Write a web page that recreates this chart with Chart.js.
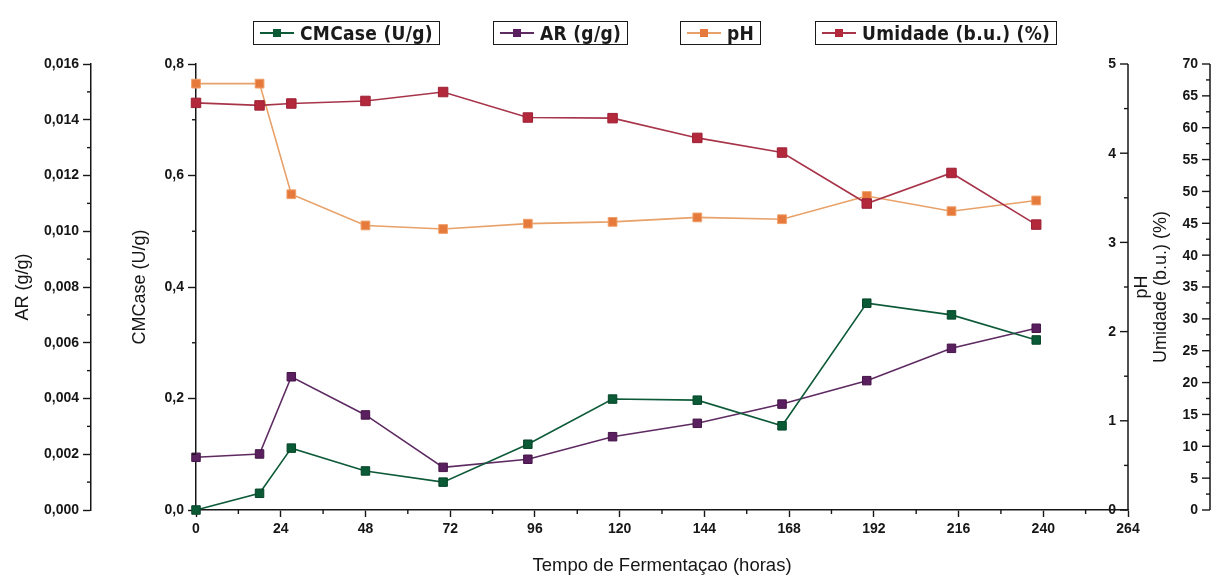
<!DOCTYPE html>
<html lang="pt">
<head>
<meta charset="utf-8">
<title>Fermentação</title>
<script src="https://cdn.jsdelivr.net/npm/chart.js@4.4.1/dist/chart.umd.min.js"></script>
<style>
  html, body { margin: 0; padding: 0; background: #fff; }
  #wrap { position: relative; width: 1214px; height: 585px; overflow: hidden; }
  #chart { position: absolute; left: 0; top: 0; }
  .lg-item {
    position: absolute; top: 21px; height: 22px;
    border: 1.5px solid #1a1a1a; box-sizing: content-box;
    display: flex; align-items: center; padding: 0 6px 0 6px;
    font-family: "DejaVu Sans Condensed", "Liberation Sans", Arial, sans-serif;
    font-weight: bold; font-size: 19px; color: #1a1a1a; letter-spacing: 0.3px; white-space: nowrap;
  }
  .lg-sw { position: relative; width: 34px; height: 22px; margin-right: 6px; flex: none; }
  .lg-sw .ln { position: absolute; left: 0; right: 0; top: 10px; height: 2px; }
  .lg-sw .mk { position: absolute; left: 13px; top: 7px; width: 8px; height: 8px; }
</style>
</head>
<body>
<div id="wrap">
  <canvas id="chart" width="1214" height="585"></canvas>
  <div id="legend"></div>
</div>
<script>
// Sampling times (h) and measured series
const hours    = [0, 18, 27, 48, 70, 94, 118, 142, 166, 190, 214, 238];
const cmcase   = [0.000, 0.030, 0.111, 0.070, 0.050, 0.118, 0.199, 0.197, 0.151, 0.371, 0.350, 0.305];
const arValues = [0.00189, 0.00201, 0.00478, 0.00341, 0.00153, 0.00182, 0.00263, 0.00311, 0.00380, 0.00464, 0.00580, 0.00652];
const phValues = [4.78, 4.78, 3.54, 3.19, 3.15, 3.21, 3.23, 3.28, 3.26, 3.52, 3.35, 3.47];
const umidade  = [63.9, 63.5, 63.8, 64.2, 65.6, 61.6, 61.5, 58.4, 56.1, 48.1, 52.9, 44.8];

// Axis tick labels
const hourTicks = ['0', '24', '48', '72', '96', '120', '144', '168', '192', '216', '240', '264'];
const cmTicks   = ['0,0', '0,2', '0,4', '0,6', '0,8'];
const arTicks   = ['0,000', '0,002', '0,004', '0,006', '0,008', '0,010', '0,012', '0,014', '0,016'];
const phTicks   = ['0', '1', '2', '3', '4', '5'];
const umTicks   = ['0', '5', '10', '15', '20', '25', '30', '35', '40', '45', '50', '55', '60', '65', '70'];

const seriesNames = ['CMCase (U/g)', 'AR (g/g)', 'pH', 'Umidade (b.u.) (%)'];

const INK = '#161616';
const TICK_FONT = { family: 'Liberation Sans, Arial, sans-serif', size: 14, weight: 'bold' };
const TITLE_FONT = { family: 'Liberation Sans, Arial, sans-serif', size: 18, weight: 'normal' };

const styles = [
  { line: '#0d5a38', fill: '#0b5a36', edge: '#064428', r: 6.0 },
  { line: '#5e2a62', fill: '#5a1f5e', edge: '#451548', r: 6.0 },
  { line: '#e8a168', fill: '#e57a3c', edge: '#f0a06a', r: 6.2 },
  { line: '#a8344a', fill: '#b4283c', edge: '#9c2035', r: 6.7 }
];

function pts(values) { return hours.map((h, i) => ({ x: h, y: values[i] })); }

const seriesData = [cmcase, arValues, phValues, umidade];
const axisIds = ['yCM', 'yAR', 'yPH', 'yUM'];

const datasets = seriesData.map((vals, i) => ({
  label: seriesNames[i],
  data: pts(vals),
  yAxisID: axisIds[i],
  borderColor: styles[i].line,
  borderWidth: 1.6,
  backgroundColor: styles[i].fill,
  pointStyle: 'rect',
  pointRadius: styles[i].r,
  pointBackgroundColor: styles[i].fill,
  pointBorderColor: styles[i].edge,
  pointBorderWidth: 1,
  tension: 0,
  clip: false,
  order: [2, 3, 1, 0][i]
}));

function fromList(list) { return (v, i) => (list[i] !== undefined ? list[i] : ''); }

// Minor ticks between labelled ticks, plus the two right-hand axes (ticks point inward)
const axisDecor = {
  id: 'axisDecor',
  afterDraw(chart) {
    const ctx = chart.ctx;
    const area = chart.chartArea;
    ctx.save();
    ctx.strokeStyle = INK;
    ctx.fillStyle = INK;
    ctx.lineWidth = 1.4;

    const minorBetween = (scale, cb) => {
      const t = scale.ticks;
      for (let i = 0; i < t.length - 1; i++) cb(scale.getPixelForValue((t[i].value + t[i + 1].value) / 2));
    };
    const sx = chart.scales.x;
    minorBetween(sx, p => { ctx.beginPath(); ctx.moveTo(p, area.bottom); ctx.lineTo(p, area.bottom + 4); ctx.stroke(); });
    ['yAR', 'yCM'].forEach(id => {
      const s = chart.scales[id];
      minorBetween(s, p => { ctx.beginPath(); ctx.moveTo(s.right, p); ctx.lineTo(s.right - 4, p); ctx.stroke(); });
    });

    const sideAxis = (scale, lineX, labels, title, titleX) => {
      ctx.lineWidth = 1.5;
      ctx.beginPath(); ctx.moveTo(lineX, scale.top); ctx.lineTo(lineX, scale.bottom); ctx.stroke();
      ctx.lineWidth = 1.4;
      ctx.font = 'bold 14px "Liberation Sans", Arial, sans-serif';
      ctx.textAlign = 'right';
      ctx.textBaseline = 'middle';
      scale.ticks.forEach((tk, i) => {
        const p = scale.getPixelForValue(tk.value);
        ctx.beginPath(); ctx.moveTo(lineX, p); ctx.lineTo(lineX - 8, p); ctx.stroke();
        ctx.fillText(labels[i] !== undefined ? labels[i] : '', lineX - 12, p + 0.5);
      });
      minorBetween(scale, p => { ctx.beginPath(); ctx.moveTo(lineX, p); ctx.lineTo(lineX - 4, p); ctx.stroke(); });
      ctx.save();
      ctx.translate(titleX, (scale.top + scale.bottom) / 2);
      ctx.rotate(-Math.PI / 2);
      ctx.font = '18px "Liberation Sans", Arial, sans-serif';
      ctx.textAlign = 'center';
      ctx.textBaseline = 'middle';
      ctx.fillText(title, 0, 0);
      ctx.restore();
    };
    sideAxis(chart.scales.yPH, area.right, phTicks, 'pH', area.right + 14);
    sideAxis(chart.scales.yUM, area.right + 82, umTicks, 'Umidade (b.u.) (%)', area.right + 33);
    ctx.restore();
  }
};

const chart = new Chart(document.getElementById('chart'), {
  type: 'line',
  data: { datasets },
  plugins: [axisDecor],
  options: {
    responsive: false,
    devicePixelRatio: 1,
    animation: false,
    layout: { padding: { top: 64, right: 86, left: 0, bottom: 0 } },
    plugins: { legend: { display: false }, tooltip: { enabled: false } },
    scales: {
      x: {
        type: 'linear', position: 'bottom', min: 0, max: 264,
        ticks: { stepSize: 24, callback: fromList(hourTicks), font: TICK_FONT, color: INK, padding: 4, maxRotation: 0 },
        grid: { drawOnChartArea: false, tickLength: 7, tickColor: INK, tickWidth: 1.4 },
        border: { color: INK, width: 1.6 },
        title: { display: true, text: 'Tempo de Fermentaçao (horas)', color: INK,
                 font: { family: 'Liberation Sans, Arial, sans-serif', size: 18.5 },
                 padding: { top: 0, bottom: 8 } },
        afterFit: s => { s.height = 75; }
      },
      yAR: {
        type: 'linear', position: 'left', weight: 2, min: 0, max: 0.016,
        ticks: { stepSize: 0.002, callback: fromList(arTicks), font: TICK_FONT, color: INK, padding: 4 },
        grid: { drawOnChartArea: false, tickLength: 8, tickColor: INK, tickWidth: 1.4 },
        border: { color: INK, width: 1.5 },
        title: { display: true, text: 'AR (g/g)', color: INK, font: TITLE_FONT, padding: { top: 12, bottom: 0 } },
        afterFit: s => { s.width = 91; }
      },
      yCM: {
        type: 'linear', position: 'left', weight: 1, min: 0, max: 0.8,
        ticks: { stepSize: 0.2, callback: fromList(cmTicks), font: TICK_FONT, color: INK, padding: 4 },
        grid: { drawOnChartArea: false, tickLength: 8, tickColor: INK, tickWidth: 1.4 },
        border: { color: INK, width: 1.5 },
        title: { display: true, text: 'CMCase (U/g)', color: INK, font: TITLE_FONT, padding: { top: 38, bottom: 0 } },
        afterFit: s => { s.width = 105; }
      },
      yPH: { type: 'linear', position: 'right', display: false, min: 0, max: 5, ticks: { stepSize: 1 } },
      yUM: { type: 'linear', position: 'right', display: false, min: 0, max: 70, ticks: { stepSize: 5 } }
    }
  }
});

// Boxed legend entries, one per series
const legendLefts = [253, 493, 680, 815];
const legend = document.getElementById('legend');
chart.data.datasets.forEach((ds, i) => {
  const item = document.createElement('div');
  item.className = 'lg-item';
  item.style.left = legendLefts[i] + 'px';
  const sw = document.createElement('span');
  sw.className = 'lg-sw';
  const ln = document.createElement('span');
  ln.className = 'ln';
  ln.style.background = ds.borderColor;
  const mk = document.createElement('span');
  mk.className = 'mk';
  mk.style.background = ds.pointBackgroundColor;
  sw.appendChild(ln); sw.appendChild(mk);
  const tx = document.createElement('span');
  tx.textContent = ds.label;
  item.appendChild(sw); item.appendChild(tx);
  legend.appendChild(item);
});
</script>
</body>
</html>
